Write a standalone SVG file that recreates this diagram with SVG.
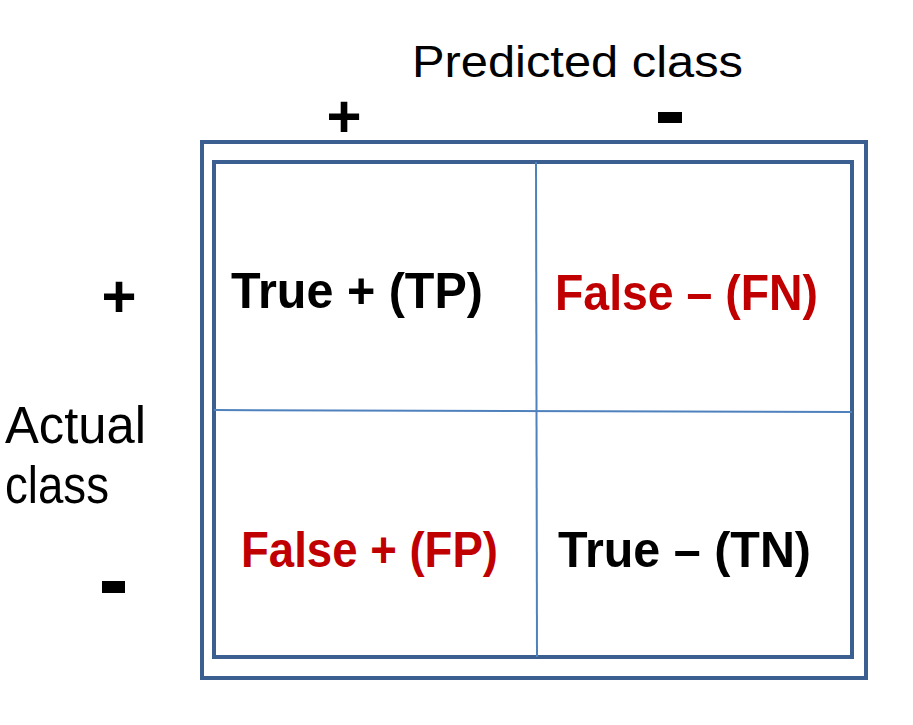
<svg xmlns="http://www.w3.org/2000/svg" width="913" height="725" viewBox="0 0 913 725">
<style>
.frame{fill:none;stroke:#3c5f92;stroke-width:4}
.grid{fill:none;stroke:#4f81bd;stroke-width:2}
.lbl{font-family:"Liberation Sans",Arial,sans-serif;fill:#000}
.cell{font-family:"Liberation Sans",Arial,sans-serif;font-weight:bold;font-size:50px}
.blk{fill:#000}
.red{fill:#c00000}
.sign{font-family:"Liberation Sans",Arial,sans-serif;font-weight:bold;fill:#000}
</style>
<rect width="913" height="725" fill="#fff"/>
<g id="axis-labels">
<text class="lbl" x="412" y="77" font-size="45" textLength="331" lengthAdjust="spacingAndGlyphs">Predicted class</text>
<text class="lbl" x="5" y="443" font-size="51" textLength="141" lengthAdjust="spacingAndGlyphs">Actual</text>
<text class="lbl" x="5" y="503" font-size="51" textLength="104" lengthAdjust="spacingAndGlyphs">class</text>
</g>
<g id="signs">
<text class="sign" x="344" y="137" font-size="60" text-anchor="middle">+</text>
<rect x="658" y="112" width="24" height="11" fill="#000"/>
<text class="sign" x="119" y="317" font-size="60" text-anchor="middle">+</text>
<rect x="102" y="581" width="23" height="12" fill="#000"/>
</g>
<g id="connectors">
<rect class="frame" x="202" y="142" width="664" height="536"/>
<rect class="frame" x="214" y="162" width="638" height="495"/>
<line class="grid" x1="536" y1="162" x2="537" y2="657"/>
<line class="grid" x1="214" y1="410" x2="852" y2="412"/>
</g>
<g id="tp"><text class="cell blk" x="231" y="308" textLength="252" lengthAdjust="spacingAndGlyphs">True + (TP)</text></g>
<g id="fn"><text class="cell red" x="555" y="310" textLength="263" lengthAdjust="spacingAndGlyphs">False – (FN)</text></g>
<g id="fp"><text class="cell red" x="241" y="567" textLength="257" lengthAdjust="spacingAndGlyphs">False + (FP)</text></g>
<g id="tn"><text class="cell blk" x="558" y="567" textLength="253" lengthAdjust="spacingAndGlyphs">True – (TN)</text></g>
</svg>
